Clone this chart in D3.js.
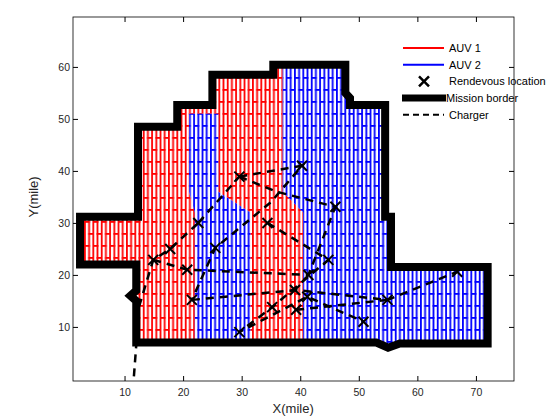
<!DOCTYPE html>
<html><head><meta charset="utf-8">
<script src="https://cdn.jsdelivr.net/npm/d3@7"></script>
<style>body{margin:0;background:#fff}text{font-family:"Liberation Sans",Arial,sans-serif}</style>
</head><body><svg id="c" width="560" height="420"></svg>
<script>
// mission border polygon (miles)
var border = [[2.4,31.2],[12.3,31.2],[12.3,48.5],[19,48.5],[19,52.7],[25,52.7],[25,58.5],[35.4,58.5],[35.4,60.4],[47.7,60.4],[47.7,55],[48.5,54],[48.5,52.7],[54.5,52.7],[54.5,31.2],[55.5,31.2],[55.5,21.5],[72,21.5],[72,6.8],[57,6.8],[55,6],[53,7],[47,7],[12,7],[12,15],[11,16],[12,17],[12,22],[2.4,22]];
// areas covered by AUV 2 (rest of the border is AUV 1)
var auv2Areas = [
  [[21,51],[26,51],[26,36],[31.5,32],[31.5,7.5],[22,7.5],[22,32],[21,36]],
  [[37,61],[56,61],[56,21.5],[73,21.5],[73,6],[40.5,6],[40.5,32],[37,36]]
];
var rendezvous = [[40.3,41],[29.6,38.9],[46,33.1],[34.4,30],[22.6,30],[17.8,25],[14.9,22.9],[25.5,25.2],[20.7,21],[44.8,22.9],[41.4,20],[54.9,15.2],[21.5,15.2],[39.1,17.1],[41.2,15.8],[35.2,13.8],[39.3,13.3],[50.8,11],[29.6,9],[66.8,20.6]];
var chargerRoutes = [
  [[11.6,0.5],[12.5,14],[14.9,22.9],[17.8,25],[22.6,30]],
  [[14.9,22.9],[20.7,21],[41.4,20],[46,33.1]],
  [[21.5,15.2],[39.3,17.1],[54.9,15.2],[66.8,20.6]],
  [[29.6,38.9],[40.3,41],[35,34],[25.5,25.2],[21.5,15.2]],
  [[29.6,38.9],[36,36],[46,33.1]],
  [[34.4,30],[44.8,22.9],[35.2,13.8],[29.6,9],[41.2,15.8],[50.8,11]],
  [[22.6,30],[29.6,38.9]],
  [[39.3,13.3],[54.9,15.2]]
];
var xTicks = [10,20,30,40,50,60,70], yTicks = [10,20,30,40,50,60];

var svg = d3.select("#c");
var m = {l:73,t:17,w:441,h:364};
var x = d3.scaleLinear().domain([1.2,76.5]).range([m.l,m.l+m.w]);
var y = d3.scaleLinear().domain([-0.4,69.6]).range([m.t+m.h,m.t]);
var line = d3.line().x(function(d){return x(d[0]);}).y(function(d){return y(d[1]);});

var defs = svg.append("defs");
[["pr","#f00"],["pb","#00f"]].forEach(function(p){
  var pat = defs.append("pattern").attr("id",p[0]).attr("patternUnits","userSpaceOnUse").attr("width",8.4).attr("height",24);
  pat.append("rect").attr("x",0).attr("y",0).attr("width",1.8).attr("height",24).attr("fill",p[1]);
  pat.append("rect").attr("x",4.2).attr("y",0).attr("width",1.8).attr("height",24).attr("fill",p[1]);
  pat.append("rect").attr("x",0).attr("y",5).attr("width",6).attr("height",1.8).attr("fill",p[1]);
  pat.append("rect").attr("x",4.2).attr("y",17).attr("width",6).attr("height",1.8).attr("fill",p[1]);
});
defs.append("clipPath").attr("id","cb").append("path").attr("d",line(border)+"Z");

var g = svg.append("g").attr("clip-path","url(#cb)");
g.append("path").attr("d",line(border)+"Z").attr("fill","url(#pr)");
g.selectAll(".b").data(auv2Areas).enter().append("path")
  .attr("d",function(d){return line(d)+"Z";}).attr("fill","#fff");
g.selectAll(".b2").data(auv2Areas).enter().append("path")
  .attr("d",function(d){return line(d)+"Z";}).attr("fill","url(#pb)");

svg.append("path").attr("d",line(border)+"Z").attr("fill","none").attr("stroke","#000").attr("stroke-width",8);

svg.selectAll(".ch").data(chargerRoutes).enter().append("path")
  .attr("d",line).attr("fill","none").attr("stroke","#000").attr("stroke-width",2.5).attr("stroke-dasharray","8,6");

svg.selectAll(".rv").data(rendezvous).enter().append("path")
  .attr("d",function(d){var a=x(d[0]),b=y(d[1]);return "M"+(a-5)+","+(b-5)+"L"+(a+5)+","+(b+5)+"M"+(a-5)+","+(b+5)+"L"+(a+5)+","+(b-5);})
  .attr("stroke","#000").attr("stroke-width",2);

// axes box
svg.append("rect").attr("x",m.l).attr("y",m.t).attr("width",m.w).attr("height",m.h).attr("fill","none").attr("stroke","#000").attr("stroke-width",0.8);
var ax = svg.append("g").attr("transform","translate(0,"+(m.t+m.h)+")").call(d3.axisBottom(x).tickValues(xTicks).tickSizeInner(-5).tickSizeOuter(0));
var ay = svg.append("g").attr("transform","translate("+m.l+",0)").call(d3.axisLeft(y).tickValues(yTicks).tickSizeInner(-5).tickSizeOuter(0));
svg.append("g").attr("transform","translate(0,"+m.t+")").call(d3.axisTop(x).tickValues(xTicks).tickSizeInner(-5).tickSizeOuter(0)).selectAll("text").remove();
svg.append("g").attr("transform","translate("+(m.l+m.w)+",0)").call(d3.axisRight(y).tickValues(yTicks).tickSizeInner(-5).tickSizeOuter(0)).selectAll("text").remove();
svg.selectAll(".domain").remove();
[ax,ay].forEach(function(a){a.selectAll("text").attr("font-size",10.5).attr("fill","#262626");});
ax.selectAll("text").attr("dy","1.1em");
svg.append("text").attr("x",x(38.8)).attr("y",413).attr("text-anchor","middle").attr("font-size",13).attr("fill","#262626").text("X(mile)");
svg.append("text").attr("transform","translate(38,"+y(35)+") rotate(-90)").attr("text-anchor","middle").attr("font-size",13).attr("fill","#262626").text("Y(mile)");

// legend
var leg = [["AUV 1","red"],["AUV 2","blue"],["Rendevous location","x"],["Mission border","border"],["Charger","dash"]];
var lg = svg.selectAll(".lg").data(leg).enter().append("g").attr("transform",function(d,i){return "translate(402,"+(48+i*16.7)+")";});
lg.each(function(d){
  var s = d3.select(this);
  if (d[1]=="red"||d[1]=="blue") s.append("line").attr("x1",1).attr("x2",42).attr("stroke",d[1]).attr("stroke-width",2);
  else if (d[1]=="x") s.append("path").attr("d","M17,-5L27,5M17,5L27,-5").attr("stroke","#000").attr("stroke-width",2.5);
  else if (d[1]=="border") s.append("line").attr("x1",0).attr("x2",44).attr("stroke","#000").attr("stroke-width",7);
  else s.append("line").attr("x1",1).attr("x2",42).attr("stroke","#000").attr("stroke-width",2).attr("stroke-dasharray","6,4");
  s.append("text").attr("x",d[1]=="border"?44:47).attr("y",4).attr("font-size",11).text(d[0]);
});
</script></body></html>
